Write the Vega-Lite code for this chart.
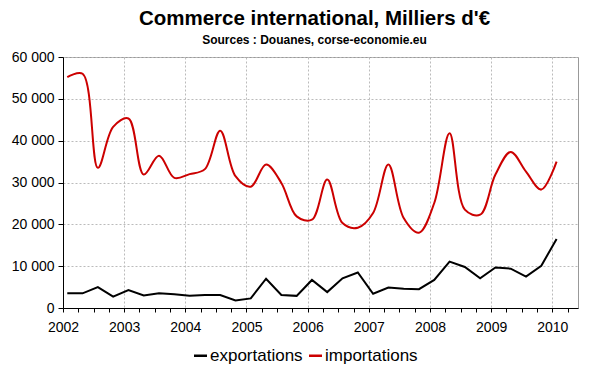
{
  "$schema": "https://vega.github.io/schema/vega-lite/v6.json",
  "width": 515,
  "height": 251,
  "autosize": "none",
  "padding": {"left": 63, "top": 57, "right": 22, "bottom": 64},
  "background": "white",
  "title": {
    "text": "Commerce international, Milliers d'€",
    "subtitle": "Sources : Douanes, corse-economie.eu",
    "anchor": "middle",
    "dx": -6,
    "offset": 4,
    "font": "Liberation Sans",
    "fontSize": 20.5,
    "fontWeight": "bold",
    "color": "black",
    "subtitleFont": "Liberation Sans",
    "subtitleFontSize": 12,
    "subtitleFontWeight": "bold",
    "subtitleColor": "black",
    "subtitlePadding": 6
  },
  "config": {
    "view": {"stroke": "#999999", "strokeWidth": 1},
    "font": "Liberation Sans"
  },
  "data": {
    "values": [
      {"t": 2002.07, "series": "exportations", "value": 3500},
      {"t": 2002.32, "series": "exportations", "value": 3500},
      {"t": 2002.57, "series": "exportations", "value": 5000},
      {"t": 2002.82, "series": "exportations", "value": 2700},
      {"t": 2003.07, "series": "exportations", "value": 4300},
      {"t": 2003.32, "series": "exportations", "value": 3000},
      {"t": 2003.57, "series": "exportations", "value": 3500},
      {"t": 2003.82, "series": "exportations", "value": 3300},
      {"t": 2004.07, "series": "exportations", "value": 2900},
      {"t": 2004.32, "series": "exportations", "value": 3100},
      {"t": 2004.57, "series": "exportations", "value": 3100},
      {"t": 2004.82, "series": "exportations", "value": 1800},
      {"t": 2005.07, "series": "exportations", "value": 2300},
      {"t": 2005.32, "series": "exportations", "value": 7000},
      {"t": 2005.57, "series": "exportations", "value": 3100},
      {"t": 2005.82, "series": "exportations", "value": 2900},
      {"t": 2006.07, "series": "exportations", "value": 6700},
      {"t": 2006.32, "series": "exportations", "value": 3800},
      {"t": 2006.57, "series": "exportations", "value": 7100},
      {"t": 2006.82, "series": "exportations", "value": 8500},
      {"t": 2007.07, "series": "exportations", "value": 3400},
      {"t": 2007.32, "series": "exportations", "value": 4900},
      {"t": 2007.57, "series": "exportations", "value": 4600},
      {"t": 2007.82, "series": "exportations", "value": 4500},
      {"t": 2008.07, "series": "exportations", "value": 6700},
      {"t": 2008.32, "series": "exportations", "value": 11100},
      {"t": 2008.57, "series": "exportations", "value": 9800},
      {"t": 2008.82, "series": "exportations", "value": 7100},
      {"t": 2009.07, "series": "exportations", "value": 9700},
      {"t": 2009.32, "series": "exportations", "value": 9400},
      {"t": 2009.57, "series": "exportations", "value": 7500},
      {"t": 2009.82, "series": "exportations", "value": 10100},
      {"t": 2010.07, "series": "exportations", "value": 16500},
      {"t": 2002.07, "series": "importations", "value": 55200},
      {"t": 2002.32, "series": "importations", "value": 56000},
      {"t": 2002.57, "series": "importations", "value": 33500},
      {"t": 2002.82, "series": "importations", "value": 43300},
      {"t": 2003.07, "series": "importations", "value": 45300},
      {"t": 2003.32, "series": "importations", "value": 31900},
      {"t": 2003.57, "series": "importations", "value": 36400},
      {"t": 2003.82, "series": "importations", "value": 31100},
      {"t": 2004.07, "series": "importations", "value": 32000},
      {"t": 2004.32, "series": "importations", "value": 33200},
      {"t": 2004.57, "series": "importations", "value": 42400},
      {"t": 2004.82, "series": "importations", "value": 31500},
      {"t": 2005.07, "series": "importations", "value": 29000},
      {"t": 2005.32, "series": "importations", "value": 34300},
      {"t": 2005.57, "series": "importations", "value": 29900},
      {"t": 2005.82, "series": "importations", "value": 21900},
      {"t": 2006.07, "series": "importations", "value": 21100},
      {"t": 2006.32, "series": "importations", "value": 30700},
      {"t": 2006.57, "series": "importations", "value": 20300},
      {"t": 2006.82, "series": "importations", "value": 19200},
      {"t": 2007.07, "series": "importations", "value": 22700},
      {"t": 2007.32, "series": "importations", "value": 34300},
      {"t": 2007.57, "series": "importations", "value": 21500},
      {"t": 2007.82, "series": "importations", "value": 18000},
      {"t": 2008.07, "series": "importations", "value": 25100},
      {"t": 2008.32, "series": "importations", "value": 41800},
      {"t": 2008.57, "series": "importations", "value": 23500},
      {"t": 2008.82, "series": "importations", "value": 22300},
      {"t": 2009.07, "series": "importations", "value": 31900},
      {"t": 2009.32, "series": "importations", "value": 37300},
      {"t": 2009.57, "series": "importations", "value": 32600},
      {"t": 2009.82, "series": "importations", "value": 28300},
      {"t": 2010.07, "series": "importations", "value": 35000}
    ]
  },
  "encoding": {
    "x": {
      "field": "t",
      "type": "quantitative",
      "scale": {"domain": [2002, 2010.42], "nice": false, "zero": false},
      "axis": {
        "title": null,
        "values": [2002, 2002.25, 2002.5, 2002.75, 2003, 2003.25, 2003.5, 2003.75, 2004, 2004.25, 2004.5, 2004.75, 2005, 2005.25, 2005.5, 2005.75, 2006, 2006.25, 2006.5, 2006.75, 2007, 2007.25, 2007.5, 2007.75, 2008, 2008.25, 2008.5, 2008.75, 2009, 2009.25, 2009.5, 2009.75, 2010, 2010.25],
        "labelExpr": "datum.value % 1 === 0 ? format(datum.value, 'd') : ''",
        "labelFontSize": 14,
        "labelColor": "black",
        "labelPadding": 8,
        "labelFlush": false,
        "domainColor": "black",
        "tickColor": "black",
        "tickSize": 4,
        "grid": true,
        "gridColor": "#bbbbbb",
        "gridDash": [2, 2],
        "gridOpacity": {"condition": {"test": "datum.value % 1 === 0", "value": 1}, "value": 0}
      }
    },
    "y": {
      "field": "value",
      "type": "quantitative",
      "scale": {"domain": [0, 60000], "nice": false},
      "axis": {
        "title": null,
        "values": [0, 10000, 20000, 30000, 40000, 50000, 60000],
        "labelExpr": "replace(format(datum.value, ',d'), ',', ' ')",
        "labelFontSize": 14,
        "labelColor": "black",
        "labelPadding": 4,
        "domainColor": "black",
        "tickColor": "black",
        "tickSize": 5,
        "grid": true,
        "gridColor": "#bbbbbb",
        "gridDash": [2, 2]
      }
    },
    "color": {
      "field": "series",
      "type": "nominal",
      "scale": {"domain": ["exportations", "importations"], "range": ["#000000", "#cc0000"]},
      "legend": {
        "title": null,
        "orient": "none",
        "legendX": 129,
        "legendY": 290,
        "direction": "horizontal",
        "symbolType": "stroke",
        "symbolStrokeWidth": 2.5,
        "symbolSize": 170,
        "labelFontSize": 17,
        "labelColor": "black",
        "labelOffset": 1,
        "columnPadding": 0,
        "symbolOffset": 0
      }
    }
  },
  "layer": [
    {
      "transform": [{"filter": "datum.series === 'importations'"}],
      "mark": {"type": "line", "strokeWidth": 2, "interpolate": "catmull-rom"}
    },
    {
      "transform": [{"filter": "datum.series === 'exportations'"}],
      "mark": {"type": "line", "strokeWidth": 2, "interpolate": "linear"}
    }
  ]
}
